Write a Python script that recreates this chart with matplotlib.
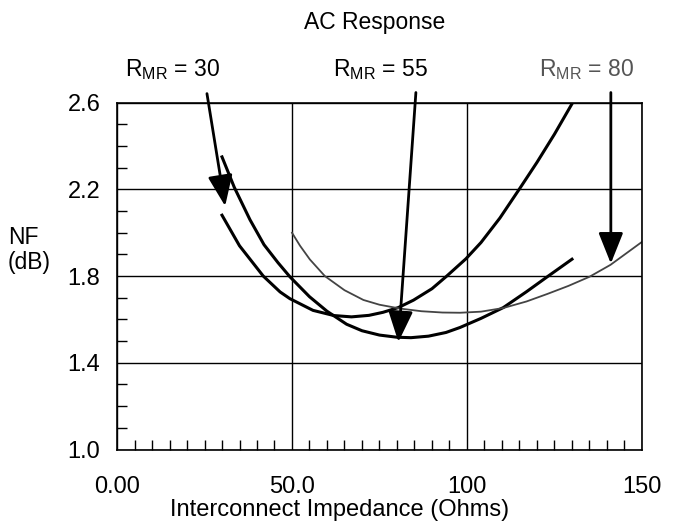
import numpy as np
import matplotlib
matplotlib.use('Agg')
import matplotlib.pyplot as plt
from matplotlib.ticker import MultipleLocator

plt.rcParams['font.family'] = ['Liberation Sans', 'DejaVu Sans']
plt.rcParams['mathtext.fontset'] = 'custom'
plt.rcParams['mathtext.rm'] = 'Liberation Sans'

# R_MR = 30 curve
x30 = [30, 35, 41.8, 46.6, 49.4, 56, 62, 67, 72, 76, 80.4, 84.7, 90, 94.2, 99.7, 104, 109.4, 115.1, 120, 125, 130]
nf30 = [2.081, 1.94, 1.80, 1.727, 1.696, 1.642, 1.618, 1.612, 1.619, 1.633, 1.655, 1.689, 1.742, 1.80, 1.88, 1.955, 2.068, 2.205, 2.325, 2.455, 2.595]

# R_MR = 55 curve
x55 = [30, 33.5, 38, 42, 46, 49.4, 55, 60, 65.6, 70, 75, 80, 84, 89, 94, 98, 104, 110.4, 117, 123.2, 130]
nf55 = [2.35, 2.21, 2.06, 1.945, 1.862, 1.797, 1.705, 1.638, 1.578, 1.548, 1.528, 1.518, 1.516, 1.523, 1.54, 1.563, 1.605, 1.655, 1.728, 1.80, 1.878]

# R_MR = 80 curve
x80 = [50, 52.3, 55.1, 59.4, 65, 70.4, 75, 81, 87, 93, 98, 104, 110.4, 117, 123, 129, 135, 141, 150]
nf80 = [2.0, 1.94, 1.877, 1.80, 1.735, 1.69, 1.668, 1.65, 1.638, 1.632, 1.631, 1.636, 1.653, 1.683, 1.718, 1.755, 1.797, 1.852, 1.958]

xticks = [0, 50, 100, 150]
xticklabels = ['0.00', '50.0', '100', '150']
yticks = [1.0, 1.4, 1.8, 2.2, 2.6]

labels = ['R$_{\\mathrm{MR}}$ = 30', 'R$_{\\mathrm{MR}}$ = 55', 'R$_{\\mathrm{MR}}$ = 80']
arrow_from = [(25.7, 2.642), (85.4, 2.647), (141.1, 2.647)]
arrow_to = [(30.9, 2.123), (80.4, 1.496), (141.1, 1.858)]

fig = plt.figure(figsize=(6.74, 5.23), dpi=100)
ax = fig.add_axes([0.1736, 0.1405, 0.7789, 0.6631])

ax.plot(x30, nf30, color='black', lw=2.2)
ax.plot(x55, nf55, color='black', lw=2.2)
ax.plot(x80, nf80, color='#444444', lw=1.3)

ax.set_xlim(0, 150)
ax.set_ylim(1.0, 2.6)
ax.set_xticks(xticks)
ax.set_xticklabels(xticklabels)
ax.set_yticks(yticks)
ax.xaxis.set_minor_locator(MultipleLocator(5))
ax.yaxis.set_minor_locator(MultipleLocator(0.1))
ax.tick_params(which='major', length=0, labelsize=17)
ax.tick_params(axis='x', which='major', pad=19)
ax.tick_params(axis='y', which='major', pad=12)
ax.tick_params(which='minor', direction='in', length=7, width=1)
ax.grid(True, which='major', color='black', lw=1)
for s in ax.spines.values():
    s.set_linewidth(1.2)

# arrows and labels
for (x0, y0), (x1, y1) in zip(arrow_from, arrow_to):
    ax.annotate('', xy=(x1, y1), xytext=(x0, y0), annotation_clip=False,
                arrowprops=dict(arrowstyle='-|>,head_length=0.95,head_width=0.38',
                                mutation_scale=20, lw=2, color='black',
                                shrinkA=0, shrinkB=0))

fig.text(172/674, 1 - 70/523, labels[0], fontsize=16.5, ha='center', va='center')
fig.text(380/674, 1 - 70/523, labels[1], fontsize=16.5, ha='center', va='center')
fig.text(586/674, 1 - 70/523, labels[2], fontsize=16.5, ha='center', va='center', color='#555555')

fig.text(375/674, 1 - 22/523, 'AC Response', fontsize=16.5, ha='center', va='center')
fig.text(8/674, 1 - 250/523, 'NF\n(dB)', fontsize=16.5, ha='left', va='center', linespacing=1.1)
fig.text(340/674, 1 - 510/523, 'Interconnect Impedance (Ohms)', fontsize=17, ha='center', va='center')

fig.savefig('out.png', dpi=100)
